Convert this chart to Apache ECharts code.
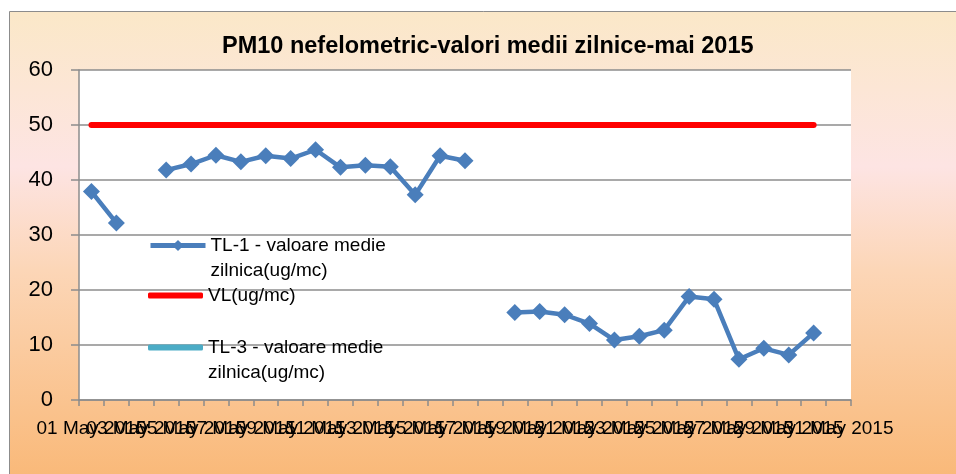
<!DOCTYPE html>
<html>
<head>
    <meta charset="utf-8" />
    <title>PM10 nefelometric</title>
    <script src="https://cdn.jsdelivr.net/npm/echarts@6/dist/echarts.min.js"></script>
    <style>
        html, body { margin: 0; padding: 0; background: #ffffff; }
        #chart { width: 956px; height: 474px; }
    </style>
</head>
<body>
    <div id="chart"></div>
    <script>
        // zilele lunii mai 2015
        var days = [
            '01 May 2015', '02 May 2015', '03 May 2015', '04 May 2015', '05 May 2015', '06 May 2015',
            '07 May 2015', '08 May 2015', '09 May 2015', '10 May 2015', '11 May 2015', '12 May 2015',
            '13 May 2015', '14 May 2015', '15 May 2015', '16 May 2015', '17 May 2015', '18 May 2015',
            '19 May 2015', '20 May 2015', '21 May 2015', '22 May 2015', '23 May 2015', '24 May 2015',
            '25 May 2015', '26 May 2015', '27 May 2015', '28 May 2015', '29 May 2015', '30 May 2015',
            '31 May 2015'
        ];

        var tl1Values = [
            37.9, 32.2, null, 41.8, 42.9, 44.5, 43.3, 44.4, 43.9, 45.5,
            42.3, 42.7, 42.4, 37.3, 44.4, 43.5, null, 15.9, 16.1, 15.5,
            13.9, 10.9, 11.6, 12.7, 18.8, 18.3, 7.4, 9.4, 8.2, 12.2,
            null
        ];

        var vlValues = [
            50, 50, 50, 50, 50, 50, 50, 50, 50, 50,
            50, 50, 50, 50, 50, 50, 50, 50, 50, 50,
            50, 50, 50, 50, 50, 50, 50, 50, 50, 50
        ];

        var tl3Values = [];

        var yTicks = { min: 0, max: 60, interval: 10 };

        var nameTL1 = 'TL-1 - valoare medie zilnica(ug/mc)';
        var nameVL = 'VL(ug/mc)';
        var nameTL3 = 'TL-3 - valoare medie zilnica(ug/mc)';

        var font = 'Liberation Sans';

        // prima linie a textului aliniata cu simbolul: o linie goala deasupra
        function wrapName(name) {
            if (name.indexOf('medie ') < 0) return name;
            return ' \n' + name.replace('medie ', 'medie\n');
        }

        function makeLegend(name, top, icon) {
            var lg = {
                data: [{ name: name }],
                orient: 'vertical',
                left: 148,
                top: top,
                padding: 0,
                itemWidth: 55,
                itemHeight: 14,
                formatter: wrapName,
                lineStyle: { width: 5 },
                textStyle: {
                    fontFamily: font,
                    fontSize: 19,
                    color: '#000',
                    lineHeight: 25
                }
            };
            if (icon) {
                lg.data[0].icon = icon;
                lg.itemHeight = 6;
            }
            return lg;
        }

        var myChart = echarts.init(document.getElementById('chart'));

        var option = {
            animation: false,
            backgroundColor: '#ffffff',
            textStyle: { fontFamily: font },
            graphic: [{
                type: 'rect',
                z: -10,
                shape: { x: 9.5, y: 11.5, width: 960, height: 470 },
                style: {
                    fill: new echarts.graphic.LinearGradient(0, 0, 0, 1, [
                        { offset: 0, color: '#fbe8c8' },
                        { offset: 0.33, color: '#fde4e3' },
                        { offset: 0.55, color: '#fcd6b7' },
                        { offset: 1, color: '#f9b877' }
                    ]),
                    stroke: '#8c8c8c',
                    lineWidth: 1
                }
            }],
            title: {
                text: 'PM10 nefelometric-valori medii zilnice-mai 2015',
                left: 222,
                top: 35,
                padding: 0,
                textStyle: {
                    fontFamily: font,
                    fontSize: 23.5,
                    fontWeight: 'bold',
                    color: '#000'
                }
            },
            legend: [
                makeLegend(nameTL1, 208, null),
                makeLegend(nameVL, 283, 'roundRect'),
                makeLegend(nameTL3, 310, 'roundRect')
            ],
            grid: {
                left: 79,
                top: 70,
                width: 772,
                height: 330,
                show: true,
                backgroundColor: '#ffffff',
                borderWidth: 0
            },
            xAxis: {
                type: 'category',
                data: days,
                boundaryGap: true,
                axisLine: { show: true, lineStyle: { color: '#8c8c8c', width: 1.5 } },
                axisTick: { show: true, interval: 0, length: 6, lineStyle: { color: '#8c8c8c', width: 1.5 } },
                axisLabel: {
                    interval: 0,
                    hideOverlap: false,
                    // o eticheta la doua zile, ca in original
                    formatter: function (value, index) {
                        return index % 2 === 0 ? value : '';
                    },
                    margin: 19,
                    fontFamily: font,
                    fontSize: 19,
                    color: '#000'
                },
                splitLine: { show: false }
            },
            yAxis: {
                type: 'value',
                min: yTicks.min,
                max: yTicks.max,
                interval: yTicks.interval,
                axisLine: { show: true, lineStyle: { color: '#8c8c8c', width: 1.5 } },
                axisTick: { show: true, length: 8, lineStyle: { color: '#8c8c8c', width: 1.5 } },
                axisLabel: {
                    margin: 26,
                    fontFamily: font,
                    fontSize: 22,
                    color: '#000'
                },
                splitLine: { show: true, lineStyle: { color: '#8c8c8c', width: 1.5 } }
            },
            series: [{
                name: nameTL1,
                type: 'line',
                data: tl1Values,
                connectNulls: false,
                symbol: 'diamond',
                symbolSize: 17,
                showAllSymbol: true,
                itemStyle: { color: '#4a7ebb' },
                lineStyle: { color: '#4a7ebb', width: 4.5 },
                z: 3
            }, {
                name: nameVL,
                type: 'line',
                data: vlValues,
                symbol: 'none',
                itemStyle: { color: '#ff0000' },
                lineStyle: { color: '#ff0000', width: 6, cap: 'round' },
                z: 2
            }, {
                name: nameTL3,
                type: 'line',
                data: tl3Values,
                symbol: 'none',
                itemStyle: { color: '#4bacc6' },
                lineStyle: { color: '#4bacc6', width: 6 },
                z: 2
            }]
        };

        myChart.setOption(option);
    </script>
</body>
</html>
